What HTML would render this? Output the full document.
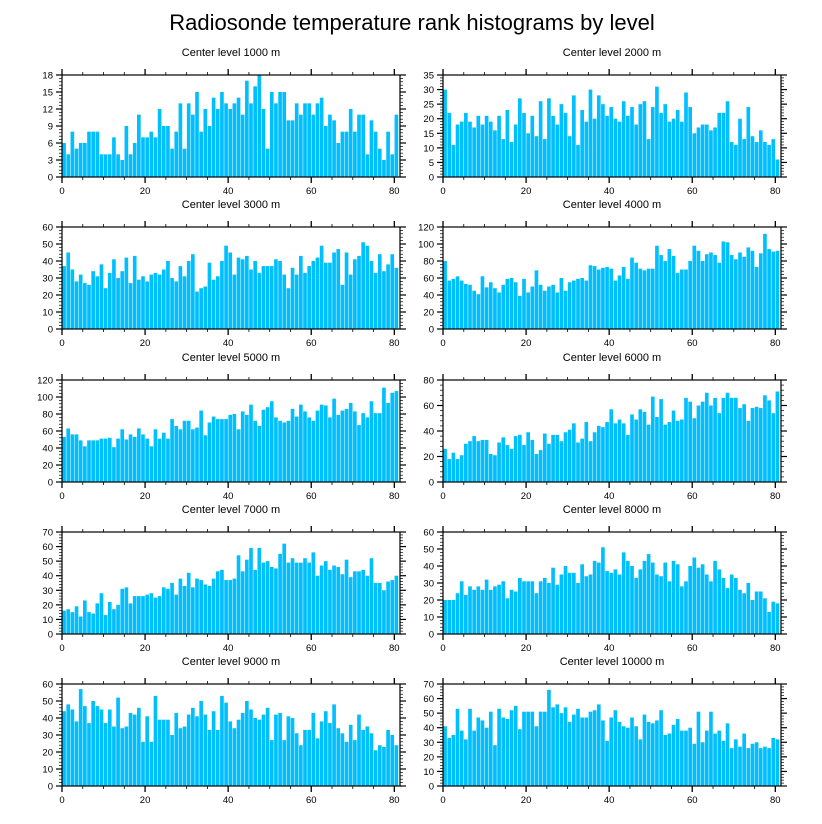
<!DOCTYPE html>
<html><head><meta charset="utf-8"><style>
html,body{margin:0;padding:0;background:#fff;}
svg{display:block;font-family:"Liberation Sans",Arial,sans-serif;}
</style></head><body>
<svg id="chart" width="822" height="824" viewBox="0 0 822 824" xmlns="http://www.w3.org/2000/svg">
<rect width="822" height="824" fill="#fff"/>
<text x="412" y="30" text-anchor="middle" font-size="22">Radiosonde temperature rank histograms by level</text>
</svg>
<script>
const panelTitles = ["Center level 1000 m","Center level 2000 m","Center level 3000 m","Center level 4000 m","Center level 5000 m","Center level 6000 m","Center level 7000 m","Center level 8000 m","Center level 9000 m","Center level 10000 m"];
const yMaxes = [18,35,60,120,120,80,70,60,60,70];
const ySteps = [3,5,10,20,20,20,10,10,10,10];
const xTicks = [0,20,40,60,80];
const v1000 = [6,4,8,5,6,6,8,8,8,4,4,4,7,4,3,9,4,6,11,7,7,8,7,12,9,9,5,8,13,5,13,11,15,8,12,9,14,12,15,13,12,13,14,11,17,13,16,18,12,5,15,13,15,15,10,10,13,11,13,13,11,13,14,9,11,10,6,8,8,12,8,11,11,4,10,8,5,3,8,4,11];
const v2000 = [30,22,11,18,19,22,19,17,21,18,21,19,16,21,13,23,12,18,27,22,15,21,14,26,13,27,21,18,25,22,14,28,11,23,19,30,20,28,25,21,24,20,19,26,21,24,18,25,26,13,24,31,22,25,19,20,23,19,29,24,15,17,18,18,16,17,22,22,26,12,11,20,13,24,14,12,16,12,11,13,6];
const v3000 = [37,45,35,28,32,27,26,34,31,38,24,33,41,30,34,42,27,43,29,31,28,32,33,32,35,40,30,28,37,31,40,44,22,24,25,39,29,31,40,49,45,32,42,41,43,35,40,33,37,37,37,41,40,32,24,36,32,43,33,37,40,42,49,39,39,45,47,26,45,32,41,43,51,49,40,33,44,34,38,44,36];
const v4000 = [80,57,59,62,57,53,52,45,41,62,49,55,48,43,52,59,60,55,39,59,43,50,69,52,45,50,52,43,60,45,55,57,59,60,57,75,74,70,72,73,71,57,63,73,59,84,78,71,69,71,71,98,87,80,94,86,66,70,70,80,98,92,80,88,90,87,78,103,102,87,82,90,85,96,92,73,89,112,94,91,92];
const v5000 = [53,63,56,56,49,42,49,49,49,51,51,52,41,51,62,50,56,53,63,56,51,42,62,51,58,51,74,66,62,72,72,62,64,84,55,70,77,74,74,74,79,80,62,83,79,91,72,66,85,88,95,76,72,70,72,86,77,91,83,76,72,84,91,90,76,98,79,84,86,93,83,67,81,76,95,81,81,111,93,105,107];
const v6000 = [26,18,23,18,21,30,32,36,32,33,33,22,21,31,35,29,26,36,37,29,39,33,22,25,38,30,37,37,32,39,41,46,31,34,47,32,39,44,43,47,57,46,49,46,37,53,49,57,55,45,67,51,65,45,47,56,48,49,66,63,50,60,63,70,60,66,54,66,70,66,66,58,61,48,58,59,58,68,64,54,71];
const v7000 = [16,17,15,19,12,23,15,14,21,28,13,22,17,20,31,32,21,26,26,26,27,28,25,26,32,31,35,27,38,33,42,32,38,37,34,33,38,43,44,37,37,38,54,43,51,59,44,59,49,50,46,45,55,62,49,52,49,49,52,49,56,40,47,50,44,47,46,41,51,39,43,43,44,40,52,35,35,30,36,37,40];
const v8000 = [20,20,20,24,31,23,28,26,28,26,32,26,28,29,31,21,26,25,33,31,31,31,24,31,33,30,39,29,35,40,36,36,30,41,34,35,43,42,51,37,36,38,35,48,43,40,33,38,43,47,42,35,34,42,31,43,41,28,31,40,45,39,41,35,31,43,38,33,27,35,33,26,24,30,20,25,25,21,13,19,18];
const v9000 = [44,48,45,38,57,47,37,50,47,45,37,45,35,52,34,35,43,42,46,26,41,26,53,39,39,39,30,43,34,35,42,46,41,50,42,33,44,33,53,49,38,34,39,43,50,45,40,39,42,46,27,42,43,27,41,40,31,24,33,33,43,28,38,44,37,48,34,31,26,36,27,42,33,35,31,21,24,23,33,30,24];
const v10000 = [41,33,35,53,38,32,53,38,47,45,40,51,28,53,47,46,52,55,39,51,51,51,41,51,51,66,54,56,50,54,44,49,53,47,47,51,52,56,45,31,47,52,44,41,40,47,41,32,49,44,43,45,52,35,36,42,46,38,38,40,29,51,30,38,51,36,38,31,43,26,32,27,36,26,29,30,26,27,26,33,32];
const series = [v1000,v2000,v3000,v4000,v5000,v6000,v7000,v8000,v9000,v10000];

const NS = "http://www.w3.org/2000/svg";
const svg = document.getElementById('chart');
function mk(tag, attrs, parent){ const e=document.createElementNS(NS,tag); for(const k in attrs) e.setAttribute(k,attrs[k]); (parent||svg).appendChild(e); return e; }
const colX = [62, 443];
const rowTop = [75, 227, 380, 532, 684];
const PW = 338, PH = 102, XU = 4.154;

series.forEach((vals, p) => {
  const left = colX[p%2], top = rowTop[Math.floor(p/2)], bottom = top+PH, right = left+PW;
  const g = mk('g', {});
  
  
  const xs = v => left + v*XU;
  const ys = v => bottom - v/yMaxes[p]*PH;
  const t = mk('text', {x: left+PW/2, y: top-19, 'text-anchor':'middle', 'font-size':'11'}, g);
  t.textContent = panelTitles[p];
  
  
  vals.forEach((v,i) => {
    const r = mk('rect', {x: xs(i)+0.25, y: ys(v), width: XU-0.5, height: bottom-ys(v), fill:'#00bfff'}, g);
    
    
  });
  const fr = mk('rect', {x:left, y:top, width:PW, height:PH, fill:'none', stroke:'#000', 'stroke-width':'1.2'}, g);
  
  
  for (let xv=0; xv<=80; xv+=5){
    const major = xv%20===0, L = major?6:3, X = xs(xv);
    mk('line', {x1:X, x2:X, y1:bottom, y2:bottom+L, stroke:'#000','stroke-width':major?1.3:0.8}, g);
    mk('line', {x1:X, x2:X, y1:top, y2:top-L, stroke:'#000','stroke-width':major?1.3:0.8}, g);
  }
  xTicks.forEach(xv => {
    const tl = mk('text', {x: xs(xv), y: bottom+17, 'text-anchor':'middle', 'font-size':'9.5'}, g);
    tl.textContent = xv;
    
    
  });
  const step = ySteps[p], minor = step/5;
  for (let k=0; k*minor<=yMaxes[p]+1e-9; k++){
    const yv = k*minor, major = k%5===0, L = major?6:3, Y = ys(yv);
    mk('line', {x1:left, x2:left-L, y1:Y, y2:Y, stroke:'#000','stroke-width':major?1.2:0.7}, g);
    mk('line', {x1:right, x2:right+L, y1:Y, y2:Y, stroke:'#000','stroke-width':major?1.2:0.7}, g);
  }
  for (let yv=0; yv<=yMaxes[p]; yv+=step){
    const tl = mk('text', {x: left-9, y: ys(yv)+3.5, 'text-anchor':'end', 'font-size':'9.5'}, g);
    tl.textContent = yv;
    
    
  }
});
</script>
</body></html>
